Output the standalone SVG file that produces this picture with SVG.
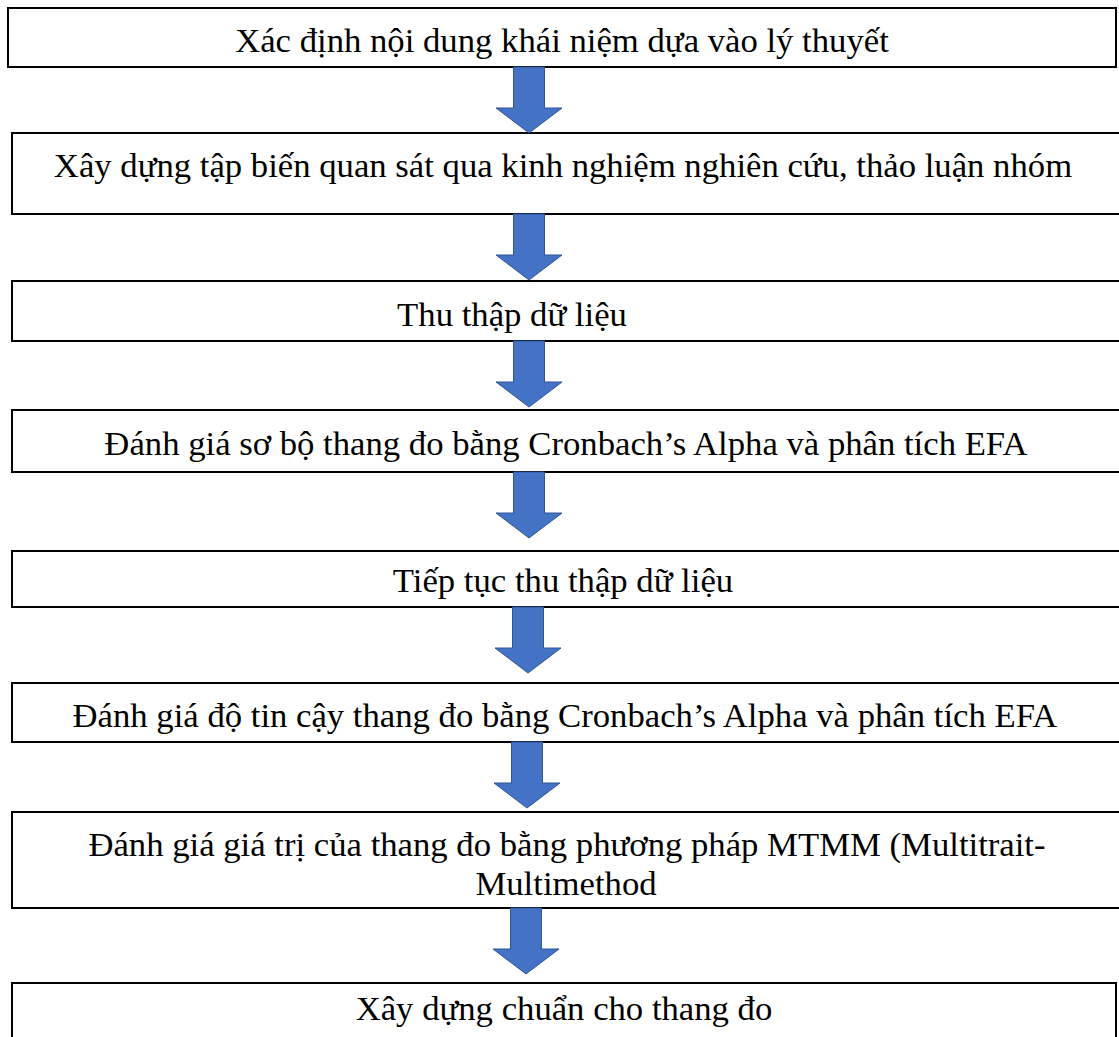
<svg xmlns="http://www.w3.org/2000/svg" width="1119" height="1037" viewBox="0 0 1119 1037">
<defs>
<style>
.box{fill:#fff;stroke:#000;stroke-width:2}
.t{font-family:"Liberation Serif","Times New Roman",serif;font-size:34.7px;fill:#000;text-anchor:middle}
.arr{fill:#4472C4;stroke:#2F5597;stroke-width:1}
</style>
<path id="arrow" class="arr" d="M-15.5,0 H15.5 V41 H33 L0,66 L-33,41 H-15.5 Z"/>
</defs>
<rect width="1119" height="1037" fill="#fff"/>
<g id="n1"><rect class="box" x="8" y="8" width="1108" height="59"/><text class="t" x="562" y="52">Xác định nội dung khái niệm dựa vào lý thuyết</text></g>
<g id="n2"><rect class="box" x="12" y="133" width="1120" height="81"/><text class="t" x="563" y="177">Xây dựng tập biến quan sát qua kinh nghiệm nghiên cứu, thảo luận nhóm</text></g>
<g id="n3"><rect class="box" x="12" y="281" width="1120" height="60"/><text class="t" x="512" y="326">Thu thập dữ liệu</text></g>
<g id="n4"><rect class="box" x="12" y="410" width="1120" height="62"/><text class="t" x="566" y="455">Đánh giá sơ bộ thang đo bằng Cronbach’s Alpha và phân tích EFA</text></g>
<g id="n5"><rect class="box" x="12" y="551" width="1120" height="56"/><text class="t" x="563" y="592">Tiếp tục thu thập dữ liệu</text></g>
<g id="n6"><rect class="box" x="12" y="683" width="1120" height="59"/><text class="t" x="565" y="727">Đánh giá độ tin cậy thang đo bằng Cronbach’s Alpha và phân tích EFA</text></g>
<g id="n7"><rect class="box" x="12" y="812" width="1120" height="96"/><text class="t" x="567" y="856">Đánh giá giá trị của thang đo bằng phương pháp MTMM (Multitrait-</text><text class="t" x="566" y="895">Multimethod</text></g>
<g id="n8"><rect class="box" x="12" y="983" width="1104" height="70"/><text class="t" x="564" y="1020">Xây dựng chuẩn cho thang đo</text></g>
<g id="connectors">
<use href="#arrow" x="529" y="67"/>
<use href="#arrow" x="529" y="214"/>
<use href="#arrow" x="529" y="341"/>
<use href="#arrow" x="529" y="472"/>
<use href="#arrow" x="528" y="607"/>
<use href="#arrow" x="527" y="742"/>
<use href="#arrow" x="526" y="908"/>
</g>
</svg>
